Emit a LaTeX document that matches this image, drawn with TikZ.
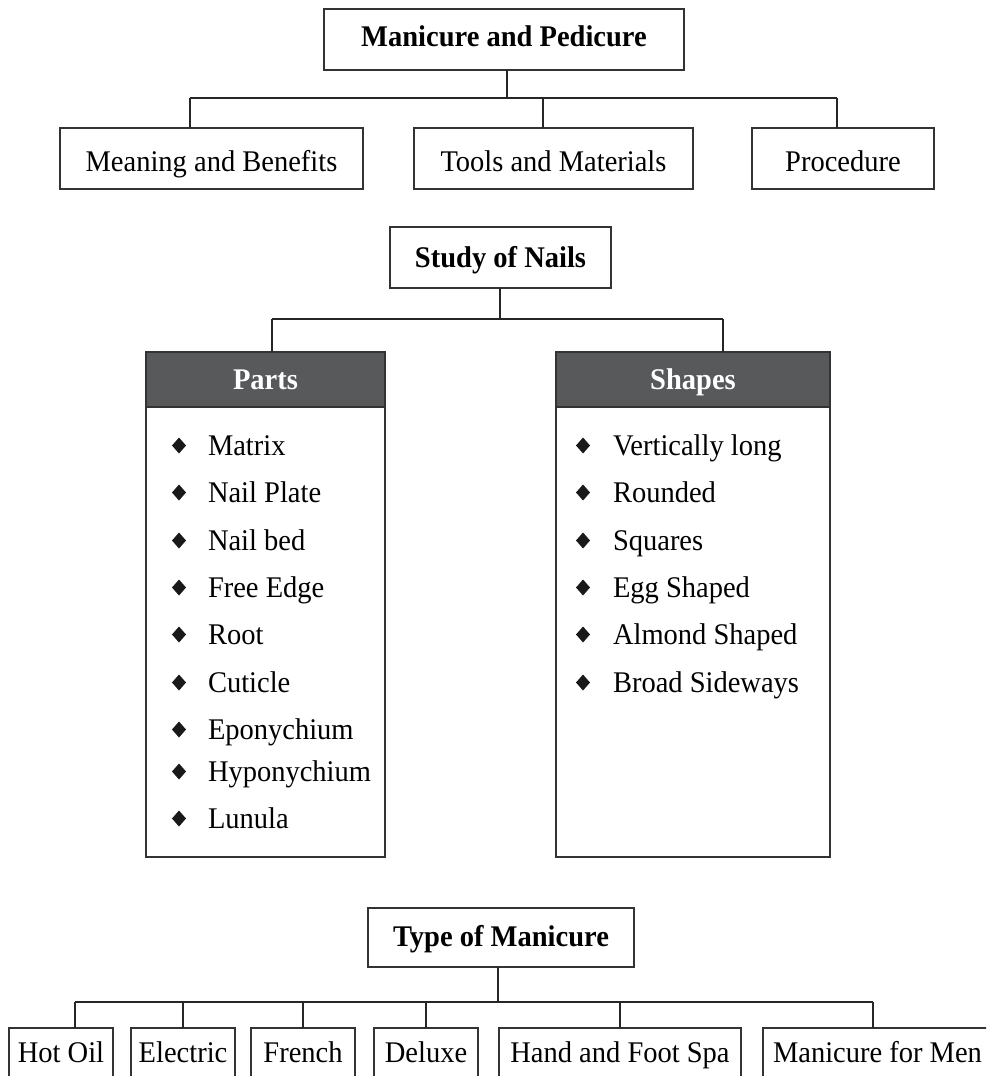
\documentclass[tikz,border=0pt]{standalone}
\usepackage{fontspec}
\setmainfont{Liberation Serif}[FakeStretch=0.95]
\newcommand\fs{\fontsize{30}{34}\selectfont}
\definecolor{hdrgray}{HTML}{58595B}
\begin{document}
\begin{tikzpicture}[x=1pt,y=-1pt,
  every node/.style={inner sep=0pt, outer sep=0pt},
  box/.style={draw=black!80, line width=1.3pt, font=\fs, fill=white},
  hdr/.style={draw=black!80, line width=1.3pt, fill=hdrgray, text=white, font=\fs\bfseries},
  conn/.style={draw=black!85, line width=1.2pt},
  item/.style={font=\fs, anchor=base west},
  bullet/.style={fill=black!90}]
\useasboundingbox (0,0) rectangle (986,1076);
\clip (0,0) rectangle (986,1076);

% ---------- top section ----------
\node[box, font=\fs\bfseries, minimum width=360pt, minimum height=61pt, text height=20pt, text depth=7pt] (top) at (504,39.5) {Manicure and Pedicure};
\node[box, minimum width=303pt, minimum height=61pt, text height=25pt, text depth=0pt] (meaning) at (211.5,158.5) {Meaning and Benefits};
\node[box, minimum width=279pt, minimum height=61pt, text height=25pt, text depth=0pt] (tools) at (553.5,158.5) {Tools and Materials};
\node[box, minimum width=182pt, minimum height=61pt, text height=25pt, text depth=0pt] (proc) at (843,158.5) {Procedure};

\coordinate (ta) at (190,98);
\coordinate (tv) at (507,98);
\coordinate (tm) at (543,98);
\coordinate (tb) at (837,98);
\draw[conn] (tv) -- (tv |- top.south);
\draw[conn] (ta) -- (tb);
\draw[conn] (ta) -- (ta |- meaning.north);
\draw[conn] (tm) -- (tm |- tools.north);
\draw[conn] (tb) -- (tb |- proc.north);

% ---------- middle section ----------
\node[box, font=\fs\bfseries, minimum width=221pt, minimum height=61pt, text height=20pt, text depth=1pt] (study) at (500.5,257.5) {Study of Nails};

\node[box, minimum width=239pt, minimum height=505pt] (partsbox) at (265.5,604.5) {};
\node[hdr, minimum width=239pt, minimum height=55pt, text height=20pt, text depth=1pt] (parts) at (265.5,379.5) {Parts};
\node[box, minimum width=274pt, minimum height=505pt] (shapesbox) at (693,604.5) {};
\node[hdr, minimum width=274pt, minimum height=55pt, text height=20pt, text depth=1pt] (shapes) at (693,379.5) {Shapes};

\coordinate (ma) at (272,319);
\coordinate (mv) at (500,319);
\coordinate (mb) at (723,319);
\draw[conn] (mv) -- (mv |- study.south);
\draw[conn] (ma) -- (mb);
\draw[conn] (ma) -- (ma |- parts.north);
\draw[conn] (mb) -- (mb |- shapes.north);

\foreach \t/\y [count=\i] in {Matrix/455, Nail Plate/502, Nail bed/550, Free Edge/597, Root/644, Cuticle/692, Eponychium/739, Hyponychium/781, Lunula/828}{
  \node[item] (pi\i) at (208,\y) {\t};
  \fill[bullet] (179,{\y-17.5}) -- (186,{\y-9.5}) -- (179,{\y-1.5}) -- (172,{\y-9.5}) -- cycle;
}
\foreach \t/\y [count=\i] in {Vertically long/455, Rounded/502, Squares/550, Egg Shaped/597, Almond Shaped/644, Broad Sideways/692}{
  \node[item] (si\i) at (613,\y) {\t};
  \fill[bullet] (583,{\y-17.5}) -- (590,{\y-9.5}) -- (583,{\y-1.5}) -- (576,{\y-9.5}) -- cycle;
}

% ---------- bottom section ----------
\node[box, font=\fs\bfseries, minimum width=266pt, minimum height=59pt, text height=20pt, text depth=3pt] (type) at (501,937.5) {Type of Manicure};

\tikzset{bbox/.style={box, minimum height=62pt, text height=20pt, text depth=14pt}}
\node[bbox, minimum width=104pt] (hot) at (61,1059) {Hot Oil};
\node[bbox, minimum width=104pt] (elec) at (183,1059) {Electric};
\node[bbox, minimum width=104pt] (french) at (303,1059) {French};
\node[bbox, minimum width=104pt] (deluxe) at (426,1059) {Deluxe};
\node[bbox, minimum width=242pt] (hand) at (620,1059) {Hand and Foot Spa};
\node[bbox, minimum width=229pt] (men) at (877.5,1059) {Manicure for Men};

\coordinate (ba) at (75,1002);
\coordinate (bv) at (498,1002);
\coordinate (bb) at (873,1002);
\draw[conn] (bv) -- (bv |- type.south);
\draw[conn] (ba) -- (bb);
\draw[conn] (ba) -- (ba |- hot.north);
\draw[conn] (elec.north) -- (elec.north |- ba);
\draw[conn] (french.north) -- (french.north |- ba);
\draw[conn] (deluxe.north) -- (deluxe.north |- ba);
\draw[conn] (hand.north) -- (hand.north |- ba);
\draw[conn] (bb) -- (bb |- men.north);
\end{tikzpicture}
\end{document}
